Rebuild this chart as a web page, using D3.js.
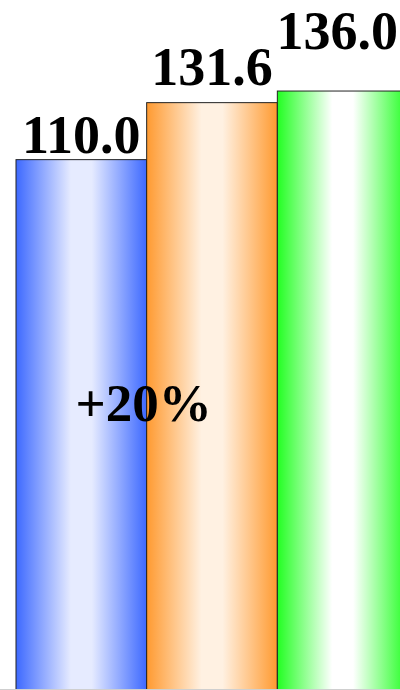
<!DOCTYPE html>
<html>
<head>
<meta charset="utf-8">
<script src="https://cdn.jsdelivr.net/npm/d3@7"></script>
<style>
  html, body { margin: 0; padding: 0; background: #fff; }
  svg { display: block; }
  text { font-family: "Liberation Serif", "Times New Roman", serif; font-weight: bold; }
</style>
</head>
<body>
<div id="chart"></div>
<script>
// Data
const categories = ["Base", "Plan", "Target"];
const values = [110.0, 131.6, 136.0];
const valueLabels = ["110.0", "131.6", "136.0"];
const changeLabel = "+20%";

// Value range shown on the vertical axis
const yDomain = [-91, 170.5];

// Per-bar colours: edge tone and centre highlight
const edgeColors = ["#3d69ff", "#ff9a30", "#22ff22"];
const centerColors = ["#e6ebff", "#fff1e2", "#ffffff"];

// Extra lift of each value label above its bar
const labelLift = [7, 18, 42];

const width = 400, height = 690;
const plotLeft = 16, plotRight = 408;

const svg = d3.select("#chart").append("svg")
  .attr("width", width)
  .attr("height", height);

const x = d3.scaleBand()
  .domain(categories)
  .range([plotLeft, plotRight])
  .padding(0);

const y = d3.scaleLinear()
  .domain(yDomain)
  .range([height, 0]);

// Horizontal shading for each bar
const defs = svg.append("defs");
categories.forEach((c, i) => {
  const g = defs.append("linearGradient")
    .attr("id", "grad" + i)
    .attr("x1", "0%").attr("x2", "100%")
    .attr("y1", "0%").attr("y2", "0%");
  g.append("stop").attr("offset", "0%").attr("stop-color", edgeColors[i]);
  g.append("stop").attr("offset", "42%").attr("stop-color", centerColors[i]);
  g.append("stop").attr("offset", "58%").attr("stop-color", centerColors[i]);
  g.append("stop").attr("offset", "100%").attr("stop-color", edgeColors[i]);
});

const data = categories.map((c, i) => ({ c, v: values[i], label: valueLabels[i], i }));

svg.append("g").selectAll("rect")
  .data(data)
  .join("rect")
  .attr("x", d => x(d.c))
  .attr("y", d => y(d.v))
  .attr("width", x.bandwidth())
  .attr("height", d => height - y(d.v))
  .attr("fill", d => "url(#grad" + d.i + ")")
  .attr("stroke", "#222")
  .attr("stroke-width", 1);

// Baseline
svg.append("line")
  .attr("x1", 0).attr("x2", width)
  .attr("y1", height - 0.5).attr("y2", height - 0.5)
  .attr("stroke", "#cfcfcf")
  .attr("stroke-width", 1);

// Value labels, kept inside the drawing area
const labels = svg.append("g").selectAll("text")
  .data(data)
  .join("text")
  .attr("text-anchor", "middle")
  .attr("font-size", 54)
  .attr("fill", "#000")
  .attr("y", d => y(d.v) - labelLift[d.i])
  .text(d => d.label);

labels.each(function(d) {
  const w = this.getComputedTextLength();
  const cx = x(d.c) + x.bandwidth() / 2;
  const clamped = Math.min(cx, width - 2 - w / 2);
  d3.select(this).attr("x", clamped);
});

// Change annotation between the first two bars
const firstMid = (y(values[0]) + height) / 2;
svg.append("text")
  .attr("x", x(categories[1]) - 3)
  .attr("y", firstMid - 4)
  .attr("text-anchor", "middle")
  .attr("font-size", 53)
  .attr("fill", "#000")
  .text(changeLabel);
</script>
</body>
</html>
